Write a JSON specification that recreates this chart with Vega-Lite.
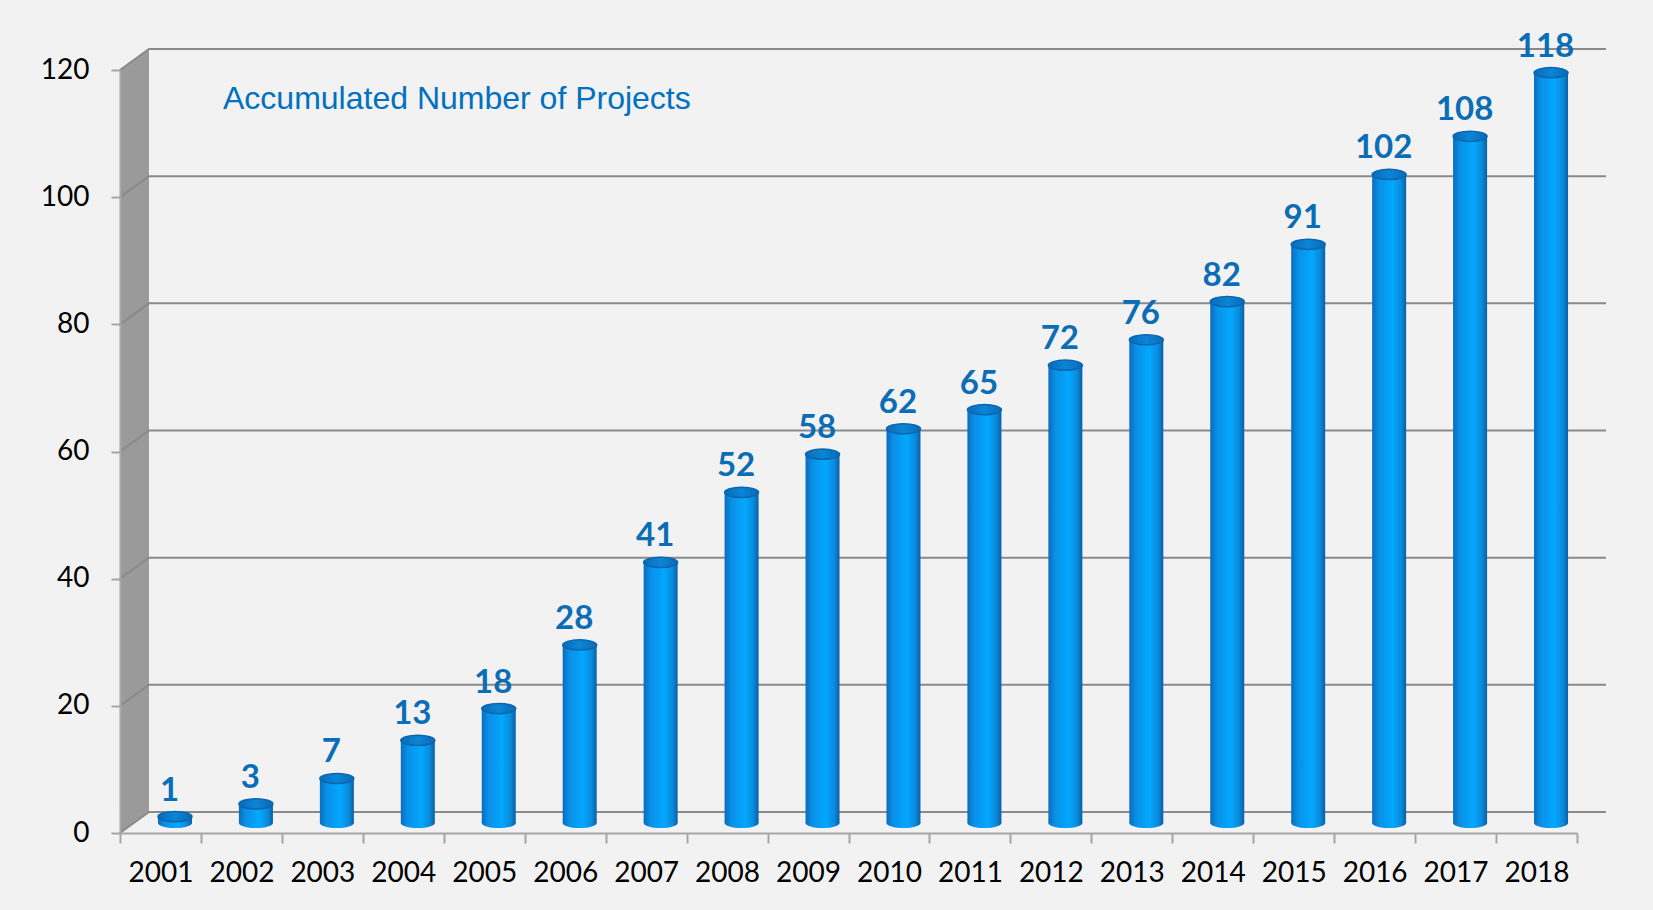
{
  "$schema": "https://vega.github.io/schema/vega-lite/v6.json",
  "autosize": {"type": "none"},
  "padding": {"left": 120, "top": 70, "right": 76, "bottom": 77},
  "width": 1457,
  "height": 763,
  "background": "#f2f2f2",
  "config": {"view": {"stroke": null}},
  "title": {
    "text": "Accumulated Number of Projects",
    "anchor": "start",
    "frame": "group",
    "orient": "top",
    "dx": 103,
    "dy": 72,
    "offset": -38,
    "baseline": "alphabetic",
    "font": "Liberation Sans",
    "fontSize": 32,
    "fontWeight": "normal",
    "color": "#0070c0"
  },
  "datasets": {
    "bars": [
      {"year": "2001", "count": 1},
      {"year": "2002", "count": 3},
      {"year": "2003", "count": 7},
      {"year": "2004", "count": 13},
      {"year": "2005", "count": 18},
      {"year": "2006", "count": 28},
      {"year": "2007", "count": 41},
      {"year": "2008", "count": 52},
      {"year": "2009", "count": 58},
      {"year": "2010", "count": 62},
      {"year": "2011", "count": 65},
      {"year": "2012", "count": 72},
      {"year": "2013", "count": 76},
      {"year": "2014", "count": 82},
      {"year": "2015", "count": 91},
      {"year": "2016", "count": 102},
      {"year": "2017", "count": 108},
      {"year": "2018", "count": 118}
    ],
    "grid": [
      {"year": "2001", "count": 0},
      {"year": "2001", "count": 20},
      {"year": "2001", "count": 40},
      {"year": "2001", "count": 60},
      {"year": "2001", "count": 80},
      {"year": "2001", "count": 100},
      {"year": "2001", "count": 120}
    ],
    "wall": [{"year": "2001", "count": 60}]
  },
  "encoding": {
    "x": {
      "field": "year",
      "type": "ordinal",
      "scale": {"domain": ["2001","2002","2003","2004","2005","2006","2007","2008","2009","2010","2011","2012","2013","2014","2015","2016","2017","2018"], "paddingInner": 0, "paddingOuter": 0},
      "axis": {
        "title": null,
        "labelAngle": 0,
        "tickBand": "extent",
        "domainColor": "#a6a6a6",
        "domainWidth": 2,
        "tickColor": "#a6a6a6",
        "tickWidth": 2,
        "tickSize": 10,
        "labelFont": "Lato",
        "labelFontSize": 28,
        "labelColor": "#000000",
        "labelBaseline": "middle",
        "labelPadding": 30,
        "grid": false,
        "zindex": 1
      }
    },
    "y": {
      "field": "count",
      "type": "quantitative",
      "scale": {"domain": [0, 120], "nice": false, "zero": true},
      "axis": {
        "title": null,
        "values": [0, 20, 40, 60, 80, 100, 120],
        "grid": false,
        "domainColor": "#a6a6a6",
        "domainWidth": 2,
        "tickColor": "#a6a6a6",
        "tickWidth": 2,
        "tickSize": 9,
        "labelFont": "Lato",
        "labelFontSize": 28,
        "labelColor": "#000000",
        "labelPadding": 22,
        "zindex": 1
      }
    }
  },
  "layer": [
    {
      "data": {"name": "wall"},
      "mark": {"type": "point", "filled": true, "size": 4, "opacity": 1, "color": "#9a9a9a",
        "shape": "M-40.5,-381.5 L-11.5,-402.5 L-11.5,360.5 L-40.5,381.5 Z"}
    },
    {
      "data": {"name": "grid"},
      "mark": {"type": "point", "filled": false, "size": 4, "opacity": 1, "color": "#8a8a8a", "strokeWidth": 2,
        "shape": "M-40.5,0 L-11.5,-21 L1445.5,-21"}
    },
    {
      "data": {"name": "bars"},
      "mark": {"type": "point", "filled": true, "size": 1156, "opacity": 1, "xOffset": 14.5, "yOffset": -10,
        "shape": "M-1,0 A1,0.3 0 1,0 1,0 A1,0.3 0 1,0 -1,0 Z",
        "color": {"gradient": "linear", "x1": 0, "x2": 1, "y1": 0, "y2": 0,
          "stops": [{"offset": 0, "color": "#0b6cbd"}, {"offset": 0.2, "color": "#0a90e6"}, {"offset": 0.6, "color": "#03a8ff"}, {"offset": 0.85, "color": "#0a8adb"}, {"offset": 1, "color": "#0a5fa6"}]}},
      "encoding": {"y": {"datum": 0, "type": "quantitative"}}
    },
    {
      "data": {"name": "bars"},
      "mark": {"type": "bar", "width": 34, "xOffset": 14.5, "yOffset": -10, "y2Offset": -10,
        "color": {"gradient": "linear", "x1": 0, "x2": 1, "y1": 0, "y2": 0,
          "stops": [{"offset": 0, "color": "#0b6cbd"}, {"offset": 0.2, "color": "#0a90e6"}, {"offset": 0.6, "color": "#03a8ff"}, {"offset": 0.85, "color": "#0a8adb"}, {"offset": 1, "color": "#0a5fa6"}]}}
    },
    {
      "data": {"name": "bars"},
      "mark": {"type": "point", "filled": true, "size": 1156, "opacity": 1, "xOffset": 14.5, "yOffset": -10,
        "shape": "M-1,0 A1,0.3 0 1,0 1,0 A1,0.3 0 1,0 -1,0 Z",
        "color": {"gradient": "linear", "x1": 0, "x2": 1, "y1": 0, "y2": 0,
          "stops": [{"offset": 0, "color": "#0a6ab8"}, {"offset": 0.5, "color": "#0b85d5"}, {"offset": 1, "color": "#0a6ab8"}]},
        "stroke": "#0b66ad", "strokeWidth": 1.5}
    },
    {
      "data": {"name": "bars"},
      "mark": {"type": "text", "font": "Lato", "fontSize": 33, "fontWeight": "bold", "color": "#0a6db5",
        "align": "center", "baseline": "alphabetic", "dx": 9, "dy": -26},
      "encoding": {"text": {"field": "count", "type": "quantitative"}}
    }
  ]
}
